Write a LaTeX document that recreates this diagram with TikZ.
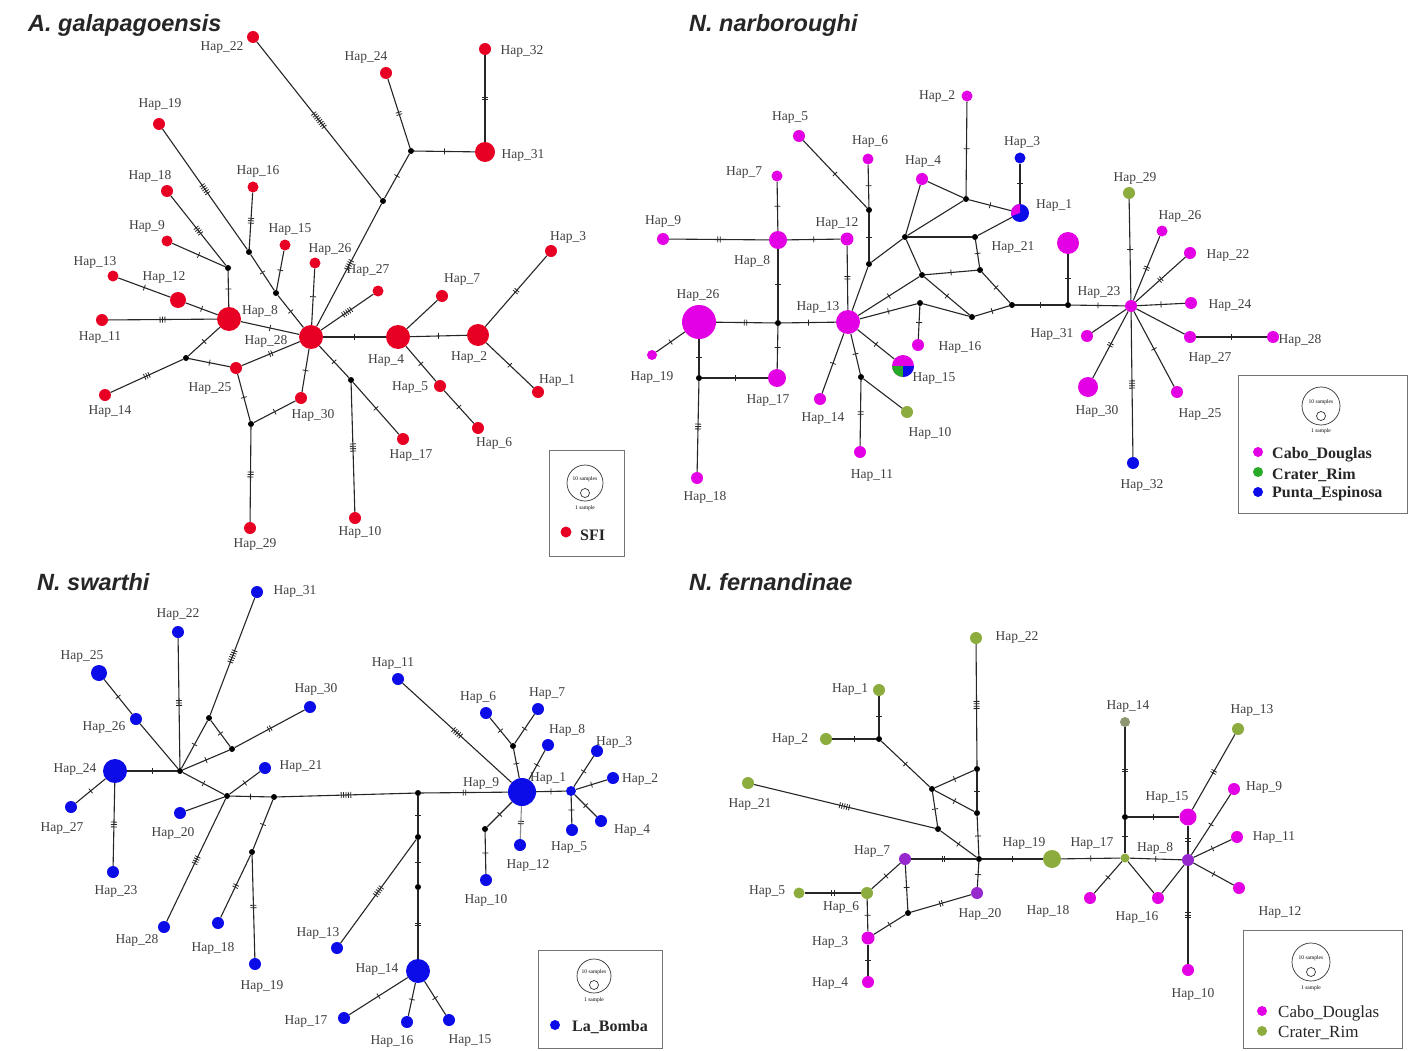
\documentclass[tikz,border=0pt]{standalone}
\usepackage{fontspec}
\setmainfont{Liberation Serif}
\newfontfamily\ttlfont{Liberation Sans}
\usetikzlibrary{decorations.markings}
\definecolor{hapred}{RGB}{232,0,36}
\definecolor{hapmag}{RGB}{228,0,228}
\definecolor{hapblue}{RGB}{12,12,232}
\definecolor{hapolive}{RGB}{140,172,62}
\definecolor{hapgreen}{RGB}{40,170,40}
\definecolor{happurple}{RGB}{150,40,205}
\definecolor{hapgray}{RGB}{140,150,112}
\tikzset{
  hR/.style={circle,fill=hapred,inner sep=0pt,minimum size=#1}, hR/.default=12,
  hM/.style={circle,fill=hapmag,inner sep=0pt,minimum size=#1}, hM/.default=12,
  hB/.style={circle,fill=hapblue,inner sep=0pt,minimum size=#1}, hB/.default=12,
  hO/.style={circle,fill=hapolive,inner sep=0pt,minimum size=#1}, hO/.default=12,
  hG/.style={circle,fill=hapgreen,inner sep=0pt,minimum size=#1}, hG/.default=12,
  hP/.style={circle,fill=happurple,inner sep=0pt,minimum size=#1}, hP/.default=12,
  hY/.style={circle,fill=hapgray,inner sep=0pt,minimum size=#1}, hY/.default=12,
  jn/.style={circle,fill=black,inner sep=0pt,minimum size=6},
  lbl/.style={font=\fontsize{13.5}{13.5}\selectfont,text=black!75,inner sep=0pt},
  ttl/.style={font=\ttlfont\bfseries\itshape\fontsize{23.5}{23.5}\selectfont,text=black!85,inner sep=0pt,anchor=west},
  ed/.style={draw=black!85,line width=1.1pt},
  tk/.style={postaction={decorate,decoration={markings,
     mark=at position 0.5 with {\foreach \k in {1,...,#1}{\draw[line width=0.8pt,black!85] ({(\k-(#1+1)/2)*2.4pt},-3pt)--++(0,6pt);}}}}},
  tk/.default=1,
  legbox/.style={draw=black!55,line width=0.9pt,inner sep=0pt},
  legc/.style={circle,draw=black!80,line width=0.7pt,inner sep=0pt},
  legt/.style={font=\fontsize{5.5}{5.5}\selectfont,inner sep=0pt},
  legl/.style={font=\bfseries\fontsize{16}{16}\selectfont,text=black!85,inner sep=0pt,anchor=west},
}
\newcommand\hapn[5]{\node[#2] (#1) at (#3) {};\node[lbl] (l#1) at (#4) {Hap\_#5};}
\begin{document}
\begin{tikzpicture}[x=1pt,y=-1pt]
\useasboundingbox[fill=white] (0,0) rectangle (1423,1051);

%================ Panel A ================
\node[ttl] (tA) at (28,25) {A. galapagoensis};
\hapn{A22}{hR=12}{253,37}{222,47}{22}
\hapn{A24}{hR=12}{386,73}{366,57}{24}
\hapn{A32}{hR=12}{485,49}{522,51}{32}
\hapn{A31}{hR=20}{485,152}{523,155}{31}
\hapn{A19}{hR=12}{159,124}{160,104}{19}
\hapn{A18}{hR=12}{167,191}{150,176}{18}
\hapn{A16}{hR=11}{253,187}{258,171}{16}
\hapn{A15}{hR=11}{285,245}{290,229}{15}
\hapn{A9}{hR=11}{167,241}{147,226}{9}
\hapn{A13}{hR=11}{113,276}{95,262}{13}
\hapn{A12}{hR=16}{178,300}{164,277}{12}
\hapn{A11}{hR=12}{102,320}{100,337}{11}
\hapn{A8}{hR=24}{229,319}{260,311}{8}
\hapn{A28}{hR=24}{311,337}{266,341}{28}
\hapn{A26}{hR=11}{315,263}{330,249}{26}
\hapn{A27}{hR=11}{378,291}{368,270}{27}
\hapn{A7}{hR=12}{442,296}{462,280}{7}
\hapn{A3}{hR=12}{551,251}{568,237}{3}
\hapn{A4}{hR=24}{398,337}{386,360}{4}
\hapn{A2}{hR=22}{478,335}{469,357}{2}
\hapn{A1}{hR=12}{538,392}{557,380}{1}
\hapn{A5}{hR=12}{440,386}{410,388}{5}
\hapn{A6}{hR=12}{478,428}{494,443}{6}
\hapn{A17}{hR=12}{403,439}{411,455}{17}
\hapn{A10}{hR=12}{355,518}{360,532}{10}
\hapn{A29}{hR=12}{250,528}{255,544}{29}
\hapn{A30}{hR=12}{301,398}{313,415}{30}
\hapn{A25}{hR=12}{236,368}{210,388}{25}
\hapn{A14}{hR=12}{105,395}{110,411}{14}
\node[jn] (jA1) at (411,151) {};
\node[jn] (jA2) at (383,201) {};
\node[jn] (jA3) at (186,358) {};
\node[jn] (jA4) at (251,424) {};
\node[jn] (jA5) at (351,380) {};
\node[jn] (jA6) at (276,293) {};
\node[jn] (jA7) at (228,268) {};
\node[jn] (jA8) at (249,252) {};
\draw[ed,tk=8] (A22)--(jA2);
\draw[ed,tk] (jA2)--(jA1);
\draw[ed,tk=2] (jA1)--(A24);
\draw[ed,tk] (jA1)--(A31);
\draw[ed,tk=2] (A31)--(A32);
\draw[ed,tk=5] (jA2)--(A28);
\draw[ed,tk] (A28)--(A26);
\draw[ed,tk=5] (A28)--(A27);
\draw[ed,tk] (A28)--(A4);
\draw[ed,tk] (A4)--(A2);
\draw[ed] (A4)--(A7);
\draw[ed,tk] (A4)--(A5);
\draw[ed,tk] (A5)--(A6);
\draw[ed,tk=2] (A2)--(A3);
\draw[ed,tk] (A2)--(A1);
\draw[ed,tk] (A28)--(jA5);
\draw[ed,tk] (jA5)--(A17);
\draw[ed,tk=4] (jA5)--(A10);
\draw[ed,tk] (A28)--(A30);
\draw[ed,tk] (A30)--(jA4);
\draw[ed,tk] (jA4)--(A25);
\draw[ed,tk=3] (jA4)--(A29);
\draw[ed,tk=2] (A25)--(A28);
\draw[ed,tk] (jA3)--(A25);
\draw[ed,tk=3] (jA3)--(A14);
\draw[ed,tk] (jA3)--(A8);
\draw[ed,tk] (A8)--(A28);
\draw[ed,tk=3] (A8)--(A11);
\draw[ed,tk] (A8)--(A12);
\draw[ed,tk] (A12)--(A13);
\draw[ed,tk] (jA7)--(A8);
\draw[ed,tk] (A9)--(jA7);
\draw[ed,tk=4] (A18)--(jA7);
\draw[ed,tk=5] (A19)--(jA8);
\draw[ed,tk=3] (A16)--(jA8);
\draw[ed,tk] (jA8)--(jA6);
\draw[ed,tk] (A15)--(jA6);
\draw[ed,tk] (jA6)--(A28);
% legend A
\node[legbox,minimum width=75,minimum height=106] (legA) at (586.5,503) {};
\node[legc,minimum size=36] (legAc) at (585,483) {};
\node[legt] (legAt) at (585,479) {10 samples};
\node[legc,minimum size=9] (legAs) at (585,493) {};
\node[legt] (legAu) at (585,508) {1 sample};
\node[hR=11] (legAd) at (566,532) {};
\node[legl] (legAl) at (580,535) {SFI};

%================ Panel B ================
\node[ttl] (tB) at (689,25) {N. narboroughi};
\hapn{B5}{hM=12}{799,136}{790,118}{5}
\hapn{B6}{hM=11}{868,159}{870,141}{6}
\hapn{B7}{hM=11}{777,176}{744,173}{7}
\hapn{B4}{hM=12}{922,179}{923,161}{4}
\hapn{B2}{hM=11}{967,96}{937,96}{2}
\hapn{B3}{hB=11}{1020,158}{1022,142}{3}
\hapn{B1}{hB=18}{1020,213}{1054,205}{1}
\hapn{B9}{hM=12}{663,239}{663,221}{9}
\hapn{B8}{hM=18}{778,240}{752,261}{8}
\hapn{B12}{hM=13}{847,239}{837,223}{12}
\hapn{B26}{hM=34}{699,322}{698,295}{26}
\hapn{B13}{hM=24}{848,322}{818,307}{13}
\hapn{B19}{hM=10}{652,355}{652,377}{19}
\hapn{B17}{hM=18}{777,378}{768,400}{17}
\hapn{B18}{hM=12}{697,478}{705,497}{18}
\hapn{B14}{hM=12}{820,399}{823,418}{14}
\hapn{B16}{hM=12}{918,345}{960,347}{16}
\hapn{B15}{hM=22}{903,366}{934,378}{15}
\hapn{B10}{hO=12}{907,412}{930,433}{10}
\hapn{B11}{hM=12}{860,452}{872,475}{11}
\hapn{B21}{hM=22}{1068,243}{1013,247}{21}
\hapn{B23}{hM=12}{1131,306}{1099,292}{23}
\hapn{B29}{hO=12}{1129,193}{1135,178}{29}
\hapn{B26b}{hM=11}{1162,231}{1180,216}{26}
\hapn{B22}{hM=12}{1190,253}{1228,255}{22}
\hapn{B24}{hM=12}{1191,303}{1230,305}{24}
\hapn{B27}{hM=12}{1190,337}{1210,358}{27}
\hapn{B28}{hM=12}{1273,337}{1300,340}{28}
\hapn{B31}{hM=12}{1087,336}{1052,334}{31}
\hapn{B30}{hM=20}{1088,387}{1097,411}{30}
\hapn{B25}{hM=12}{1177,392}{1200,414}{25}
\hapn{B32}{hB=12}{1133,463}{1142,485}{32}
% pies
\fill[hapmag] (B1.center) -- ++(90:9pt) arc[start angle=90,end angle=200,radius=9pt] -- cycle;
\fill[hapgreen] (B15.center) -- ++(180:11pt) arc[start angle=180,end angle=270,radius=11pt] -- cycle;
\fill[hapblue] (B15.center) -- ++(270:11pt) arc[start angle=270,end angle=360,radius=11pt] -- cycle;
\node[jn] (jBa) at (869,210) {};
\node[jn] (jBb) at (966,199) {};
\node[jn] (jBc) at (905,237) {};
\node[jn] (jBd) at (975,237) {};
\node[jn] (jBe) at (869,264) {};
\node[jn] (jBf) at (922,275) {};
\node[jn] (jBg) at (980,270) {};
\node[jn] (jBh) at (1012,305) {};
\node[jn] (jBi) at (972,317) {};
\node[jn] (jBj) at (920,303) {};
\node[jn] (jBk) at (778,323) {};
\node[jn] (jBm) at (1068,305) {};
\node[jn] (jBn) at (699,378) {};
\node[jn] (jBo) at (861,377) {};
\draw[ed,tk] (B5)--(jBa);
\draw[ed,tk] (B6)--(jBa);
\draw[ed,tk] (jBa)--(jBe);
\draw[ed] (jBe)--(B13);
\draw[ed] (jBe)--(jBc);
\draw[ed,tk] (B7)--(B8);
\draw[ed,tk=2] (B9)--(B8);
\draw[ed,tk] (B8)--(B12);
\draw[ed,tk=2] (B12)--(B13);
\draw[ed,tk] (B8)--(jBk);
\draw[ed,tk=2] (jBk)--(B26);
\draw[ed,tk] (jBk)--(B13);
\draw[ed,tk] (jBk)--(B17);
\draw[ed] (B4)--(jBc);
\draw[ed] (B4)--(jBb);
\draw[ed,tk] (B2)--(jBb);
\draw[ed,tk] (jBb)--(B1);
\draw[ed,tk] (B3)--(B1);
\draw[ed] (jBc)--(jBb);
\draw[ed] (jBc)--(jBd);
\draw[ed] (jBd)--(B1);
\draw[ed,tk] (jBd)--(jBg);
\draw[ed] (jBc)--(jBf);
\draw[ed,tk] (jBf)--(jBg);
\draw[ed,tk] (jBf)--(B13);
\draw[ed,tk] (jBf)--(jBi);
\draw[ed,tk] (jBg)--(jBh);
\draw[ed,tk] (jBi)--(jBh);
\draw[ed,tk] (jBj)--(B13);
\draw[ed] (jBj)--(jBi);
\draw[ed,tk] (jBj)--(B16);
\draw[ed,tk] (B26)--(B19);
\draw[ed,tk] (B26)--(jBn);
\draw[ed,tk] (jBn)--(B17);
\draw[ed,tk=3] (jBn)--(B18);
\draw[ed,tk] (B13)--(B15);
\draw[ed,tk] (B13)--(B14);
\draw[ed,tk] (B13)--(jBo);
\draw[ed] (jBo)--(B10);
\draw[ed,tk=2] (jBo)--(B11);
\draw[ed,tk] (jBh)--(jBm);
\draw[ed,tk] (jBm)--(B23);
\draw[ed,tk] (B21)--(jBm);
\draw[ed,tk] (B23)--(B29);
\draw[ed,tk=2] (B23)--(B26b);
\draw[ed,tk=2] (B23)--(B22);
\draw[ed,tk] (B23)--(B24);
\draw[ed] (B23)--(B27);
\draw[ed,tk] (B27)--(B28);
\draw[ed,tk] (B23)--(B25);
\draw[ed,tk=4] (B23)--(B32);
\draw[ed,tk=2] (B23)--(B30);
\draw[ed] (B23)--(B31);
% legend B
\node[legbox,minimum width=169,minimum height=138] (legB) at (1322.5,444) {};
\node[legc,minimum size=38] (legBc) at (1321,406) {};
\node[legt] (legBt) at (1321,402) {10 samples};
\node[legc,minimum size=9] (legBs) at (1321,416) {};
\node[legt] (legBu) at (1321,431) {1 sample};
\node[hM=10] (legBd1) at (1258,452) {};
\node[hG=10] (legBd2) at (1258,472) {};
\node[hB=10] (legBd3) at (1258,492) {};
\node[legl] (legBl1) at (1272,455) {Cabo\_Douglas};
\node[legl] (legBl2) at (1272,475) {Crater\_Rim};
\node[legl] (legBl3) at (1272,494) {Punta\_Espinosa};

%================ Panel C ================
\node[ttl] (tC) at (37,582) {N. swarthi};
\hapn{C31}{hB=12}{257,592}{295,591}{31}
\hapn{C22}{hB=12}{178,632}{178,614}{22}
\hapn{C25}{hB=16}{99,673}{82,656}{25}
\hapn{C30}{hB=12}{310,707}{316,689}{30}
\hapn{C26}{hB=12}{136,719}{104,727}{26}
\hapn{C24}{hB=24}{115,771}{75,769}{24}
\hapn{C21}{hB=12}{265,768}{301,766}{21}
\hapn{C20}{hB=12}{180,813}{173,833}{20}
\hapn{C27}{hB=12}{71,807}{62,828}{27}
\hapn{C23}{hB=12}{113,872}{116,891}{23}
\hapn{C28}{hB=12}{164,927}{137,940}{28}
\hapn{C18}{hB=12}{218,923}{213,948}{18}
\hapn{C19}{hB=12}{255,964}{262,986}{19}
\hapn{C13}{hB=12}{337,948}{318,933}{13}
\hapn{C14}{hB=24}{418,971}{377,969}{14}
\hapn{C17}{hB=12}{344,1018}{306,1021}{17}
\hapn{C16}{hB=12}{407,1022}{392,1041}{16}
\hapn{C15}{hB=12}{449,1020}{470,1040}{15}
\hapn{C10}{hB=12}{486,880}{486,900}{10}
\hapn{C12}{hB=12}{520,845}{528,865}{12}
\hapn{C5}{hB=12}{572,830}{569,848}{5}
\hapn{C4}{hB=12}{601,821}{632,830}{4}
\hapn{C2}{hB=12}{613,778}{640,779}{2}
\hapn{C3}{hB=12}{597,751}{614,742}{3}
\hapn{C8}{hB=12}{548,745}{567,730}{8}
\hapn{C7}{hB=12}{538,709}{547,694}{7}
\hapn{C6}{hB=12}{486,713}{478,697}{6}
\hapn{C11}{hB=12}{398,679}{393,663}{11}
\hapn{C9}{hB=28}{522,792}{481,783}{9}
\hapn{C1}{hB=10}{571,791}{548,778}{1}
\node[jn] (jCp) at (180,771) {};
\node[jn] (jCq) at (209,718) {};
\node[jn] (jCr) at (232,749) {};
\node[jn] (jCs) at (227,796) {};
\node[jn] (jCt) at (274,797) {};
\node[jn] (jCu) at (252,852) {};
\node[jn] (jCv1) at (418,793) {};
\node[jn] (jCv2) at (418,837) {};
\node[jn] (jCw) at (418,887) {};
\node[jn] (jCx) at (485,829) {};
\node[jn] (jCy) at (513,746) {};
\draw[ed,tk] (jCp)--(C24);
\draw[ed,tk=3] (jCp)--(C22);
\draw[ed] (jCp)--(C26);
\draw[ed,tk] (C26)--(C25);
\draw[ed,tk] (jCp)--(jCq);
\draw[ed,tk=6] (jCq)--(C31);
\draw[ed,tk] (jCq)--(jCr);
\draw[ed,tk] (jCp)--(jCr);
\draw[ed,tk=2] (jCr)--(C30);
\draw[ed,tk] (jCp)--(jCs);
\draw[ed,tk] (jCs)--(C21);
\draw[ed] (jCs)--(C20);
\draw[ed,tk=4] (jCs)--(C28);
\draw[ed,tk] (jCs)--(jCt);
\draw[ed,tk=5] (jCt)--(jCv1);
\draw[ed,tk] (jCt)--(jCu);
\draw[ed,tk=2] (jCu)--(C18);
\draw[ed,tk=2] (jCu)--(C19);
\draw[ed,tk=2] (jCv1)--(C9);
\draw[ed,tk] (C24)--(C27);
\draw[ed,tk=3] (C24)--(C23);
\draw[ed,tk] (C9)--(C1);
\draw[ed,tk] (C1)--(C3);
\draw[ed,tk] (C1)--(C2);
\draw[ed,tk] (C1)--(C4);
\draw[ed,tk] (C1)--(C5);
\draw[ed,tk=2,draw=black!45] (C9)--(C12);
\draw[ed,tk] (C9)--(jCx);
\draw[ed,tk] (jCx)--(C10);
\draw[ed,tk] (C9)--(C8);
\draw[ed,tk] (C9)--(jCy);
\draw[ed,tk] (jCy)--(C6);
\draw[ed,tk] (jCy)--(C7);
\draw[ed,tk=5] (C9)--(C11);
\draw[ed,tk] (jCv1)--(jCv2);
\draw[ed,tk] (jCv2)--(jCw);
\draw[ed,tk=2] (jCw)--(C14);
\draw[ed,tk=5] (jCv2)--(C13);
\draw[ed,tk] (C14)--(C17);
\draw[ed,tk] (C14)--(C16);
\draw[ed,tk] (C14)--(C15);
% legend C
\node[legbox,minimum width=124,minimum height=98] (legC) at (600,999) {};
\node[legc,minimum size=34] (legCc) at (594,976) {};
\node[legt] (legCt) at (594,972) {10 samples};
\node[legc,minimum size=9] (legCs) at (594,985) {};
\node[legt] (legCu) at (594,1000) {1 sample};
\node[hB=10] (legCd) at (555,1025) {};
\node[legl] (legCl) at (572,1027) {La\_Bomba};

%================ Panel D ================
\node[ttl] (tD) at (689,582) {N. fernandinae};
\hapn{D22}{hO=12}{976,638}{1017,637}{22}
\hapn{D1}{hO=12}{879,690}{850,689}{1}
\hapn{D2}{hO=12}{826,739}{790,739}{2}
\hapn{D21}{hO=12}{748,783}{750,804}{21}
\hapn{D7}{hP=12}{905,859}{872,852}{7}
\hapn{D5}{hO=11}{799,893}{767,892}{5}
\hapn{D6}{hO=12}{867,893}{841,907}{6}
\hapn{D20}{hP=12}{977,893}{980,914}{20}
\hapn{D3}{hM=13}{868,938}{830,942}{3}
\hapn{D4}{hM=12}{868,982}{830,983}{4}
\hapn{D19}{hO=18}{1052,859}{1024,843}{19}
\hapn{D17}{hO=9}{1125,858}{1092,843}{17}
\hapn{D14}{hY=10}{1125,722}{1128,706}{14}
\hapn{D13}{hO=12}{1238,729}{1252,710}{13}
\hapn{D15}{hM=17}{1188,817}{1167,797}{15}
\hapn{D9}{hM=12}{1234,789}{1264,787}{9}
\hapn{D11}{hM=12}{1237,837}{1274,837}{11}
\hapn{D8}{hP=12}{1188,860}{1155,848}{8}
\hapn{D12}{hM=12}{1239,888}{1280,912}{12}
\hapn{D16}{hM=12}{1158,898}{1137,917}{16}
\hapn{D18}{hM=12}{1090,898}{1048,911}{18}
\hapn{D10}{hM=12}{1188,970}{1193,994}{10}
\node[jn] (jD1) at (879,739) {};
\node[jn] (jD2) at (932,789) {};
\node[jn] (jD3) at (977,769) {};
\node[jn] (jD4) at (977,813) {};
\node[jn] (jD5) at (938,829) {};
\node[jn] (jD6) at (979,859) {};
\node[jn] (jD7) at (908,913) {};
\node[jn] (jD8) at (1125,817) {};
\draw[ed,tk=4] (D22)--(jD3);
\draw[ed,tk] (jD3)--(jD4);
\draw[ed,tk] (jD4)--(jD6);
\draw[ed,tk] (jD1)--(D1);
\draw[ed,tk] (jD1)--(D2);
\draw[ed,tk] (jD1)--(jD2);
\draw[ed,tk] (jD2)--(jD3);
\draw[ed,tk] (jD2)--(jD4);
\draw[ed,tk] (jD2)--(jD5);
\draw[ed,tk=5] (D21)--(jD5);
\draw[ed,tk] (jD5)--(jD6);
\draw[ed,tk=2] (jD6)--(D7);
\draw[ed,tk] (D7)--(D6);
\draw[ed,tk] (D7)--(jD7);
\draw[ed,tk=2] (D6)--(D5);
\draw[ed,tk] (D6)--(D3);
\draw[ed,tk] (D3)--(D4);
\draw[ed,tk] (D3)--(jD7);
\draw[ed,tk=2] (jD7)--(D20);
\draw[ed,tk] (D20)--(jD6);
\draw[ed,tk] (jD6)--(D19);
\draw[ed,tk] (D19)--(D17);
\draw[ed,tk] (D17)--(D8);
\draw[ed,tk] (D17)--(jD8);
\draw[ed,tk=2] (jD8)--(D14);
\draw[ed,tk] (jD8)--(D15);
\draw[ed,tk=2] (D15)--(D8);
\draw[ed,tk=2] (D13)--(D15);
\draw[ed,tk] (D17)--(D18);
\draw[ed] (D17)--(D16);
\draw[ed] (D16)--(D8);
\draw[ed,tk] (D8)--(D9);
\draw[ed,tk] (D8)--(D11);
\draw[ed,tk] (D8)--(D12);
\draw[ed,tk=3] (D8)--(D10);
% legend D
\node[legbox,minimum width=159,minimum height=118] (legD) at (1322.5,989) {};
\node[legc,minimum size=38] (legDc) at (1311,962) {};
\node[legt] (legDt) at (1311,958) {10 samples};
\node[legc,minimum size=9] (legDs) at (1311,972) {};
\node[legt] (legDu) at (1311,988) {1 sample};
\node[hM=10] (legDd1) at (1262,1011) {};
\node[hO=10] (legDd2) at (1262,1031) {};
\node[legl,font=\fontsize{17}{17}\selectfont] (legDl1) at (1278,1013) {Cabo\_Douglas};
\node[legl,font=\fontsize{17}{17}\selectfont] (legDl2) at (1278,1033) {Crater\_Rim};
\end{tikzpicture}
\end{document}
